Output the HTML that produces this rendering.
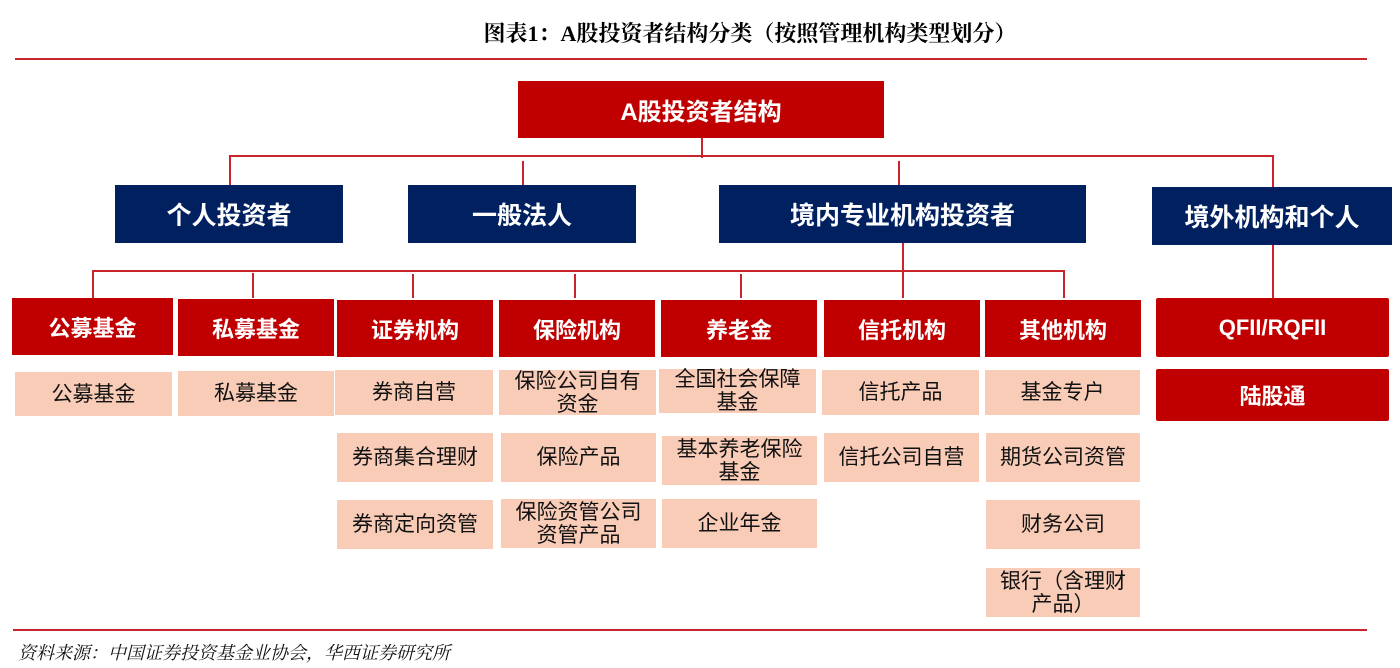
<!DOCTYPE html>
<html><head><meta charset="utf-8"><style>
body{margin:0;width:1400px;height:668px;background:#fff;position:relative;overflow:hidden;font-family:"Liberation Sans","Noto Sans CJK SC",sans-serif}
.b{position:absolute;display:flex;align-items:center;justify-content:center;text-align:center;box-sizing:border-box}
.r{background:#c00000;color:#fff;font-weight:bold;font-size:22px}
.n{background:#002060;color:#fff;font-weight:bold;font-size:25px}
.p{background:#f9ccb8;color:#111;font-size:21px;line-height:23px}
.h{position:absolute;height:2px;background:#c8262c}
.v{position:absolute;width:2px;background:#c8262c}
</style></head><body>
<div style="position:absolute;left:0;width:1400px;top:17px;text-align:center;font-size:22px;font-weight:bold;font-family:'Liberation Serif','Noto Serif CJK SC',serif;padding-left:100px;box-sizing:border-box">图表1：A股投资者结构分类（按照管理机构类型划分）</div>
<div class="h" style="left:15px;width:1352px;top:58px"></div>

<div class="b r" style="left:518px;top:81px;width:366px;height:57px;font-size:24px">A股投资者结构</div>
<div class="v" style="left:701px;top:138px;height:20px"></div>
<div class="h" style="left:229px;width:1045px;top:155px"></div>
<div class="v" style="left:229px;top:155px;height:30px"></div>
<div class="v" style="left:522px;top:161px;height:24px"></div>
<div class="v" style="left:898px;top:161px;height:24px"></div>
<div class="v" style="left:1272px;top:155px;height:32px"></div>

<div class="b n" style="left:115px;top:185px;width:228px;height:58px">个人投资者</div>
<div class="b n" style="left:408px;top:185px;width:228px;height:58px">一般法人</div>
<div class="b n" style="left:719px;top:185px;width:367px;height:58px">境内专业机构投资者</div>
<div class="b n" style="left:1152px;top:187px;width:240px;height:58px">境外机构和个人</div>

<div class="v" style="left:902px;top:243px;height:55px"></div>
<div class="h" style="left:92px;width:973px;top:270px"></div>
<div class="v" style="left:92px;top:270px;height:28px"></div>
<div class="v" style="left:252px;top:273px;height:25px"></div>
<div class="v" style="left:412px;top:274px;height:24px"></div>
<div class="v" style="left:574px;top:274px;height:24px"></div>
<div class="v" style="left:740px;top:274px;height:24px"></div>
<div class="v" style="left:1063px;top:270px;height:28px"></div>
<div class="v" style="left:1272px;top:245px;height:53px"></div>

<div class="b r" style="left:12px;top:298px;width:161px;height:57px">公募基金</div>
<div class="b r" style="left:178px;top:299px;width:156px;height:57px">私募基金</div>
<div class="b r" style="left:337px;top:300px;width:156px;height:57px">证券机构</div>
<div class="b r" style="left:499px;top:300px;width:156px;height:57px">保险机构</div>
<div class="b r" style="left:661px;top:300px;width:156px;height:57px">养老金</div>
<div class="b r" style="left:824px;top:300px;width:156px;height:57px">信托机构</div>
<div class="b r" style="left:985px;top:300px;width:156px;height:57px">其他机构</div>
<div class="b r" style="left:1156px;top:298px;width:233px;height:59px;border-radius:2px">QFII/RQFII</div>
<div class="b r" style="left:1156px;top:369px;width:233px;height:52px;border-radius:2px">陆股通</div>

<div class="b p" style="left:15px;top:372px;width:157px;height:44px">公募基金</div>
<div class="b p" style="left:178px;top:371px;width:156px;height:45px">私募基金</div>
<div class="b p" style="left:335px;top:370px;width:158px;height:45px">券商自营</div>
<div class="b p" style="left:499px;top:370px;width:157px;height:45px">保险公司自有<br>资金</div>
<div class="b p" style="left:659px;top:369px;width:157px;height:44px">全国社会保障<br>基金</div>
<div class="b p" style="left:822px;top:370px;width:157px;height:45px">信托产品</div>
<div class="b p" style="left:985px;top:370px;width:155px;height:45px">基金专户</div>

<div class="b p" style="left:337px;top:433px;width:156px;height:49px">券商集合理财</div>
<div class="b p" style="left:501px;top:433px;width:155px;height:49px">保险产品</div>
<div class="b p" style="left:662px;top:436px;width:155px;height:49px">基本养老保险<br>基金</div>
<div class="b p" style="left:824px;top:433px;width:155px;height:49px">信托公司自营</div>
<div class="b p" style="left:986px;top:433px;width:154px;height:49px">期货公司资管</div>

<div class="b p" style="left:337px;top:500px;width:156px;height:49px">券商定向资管</div>
<div class="b p" style="left:501px;top:499px;width:155px;height:49px">保险资管公司<br>资管产品</div>
<div class="b p" style="left:662px;top:499px;width:155px;height:49px">企业年金</div>
<div class="b p" style="left:986px;top:500px;width:154px;height:49px">财务公司</div>
<div class="b p" style="left:986px;top:568px;width:154px;height:49px">银行（含理财<br>产品）</div>

<div class="h" style="left:13px;width:1354px;top:629px"></div>
<div style="position:absolute;left:18px;top:639px;font-size:18px;font-style:italic;font-family:'Liberation Serif','Noto Serif CJK SC',serif;color:#111">资料来源：中国证券投资基金业协会，华西证券研究所</div>
</body></html>
